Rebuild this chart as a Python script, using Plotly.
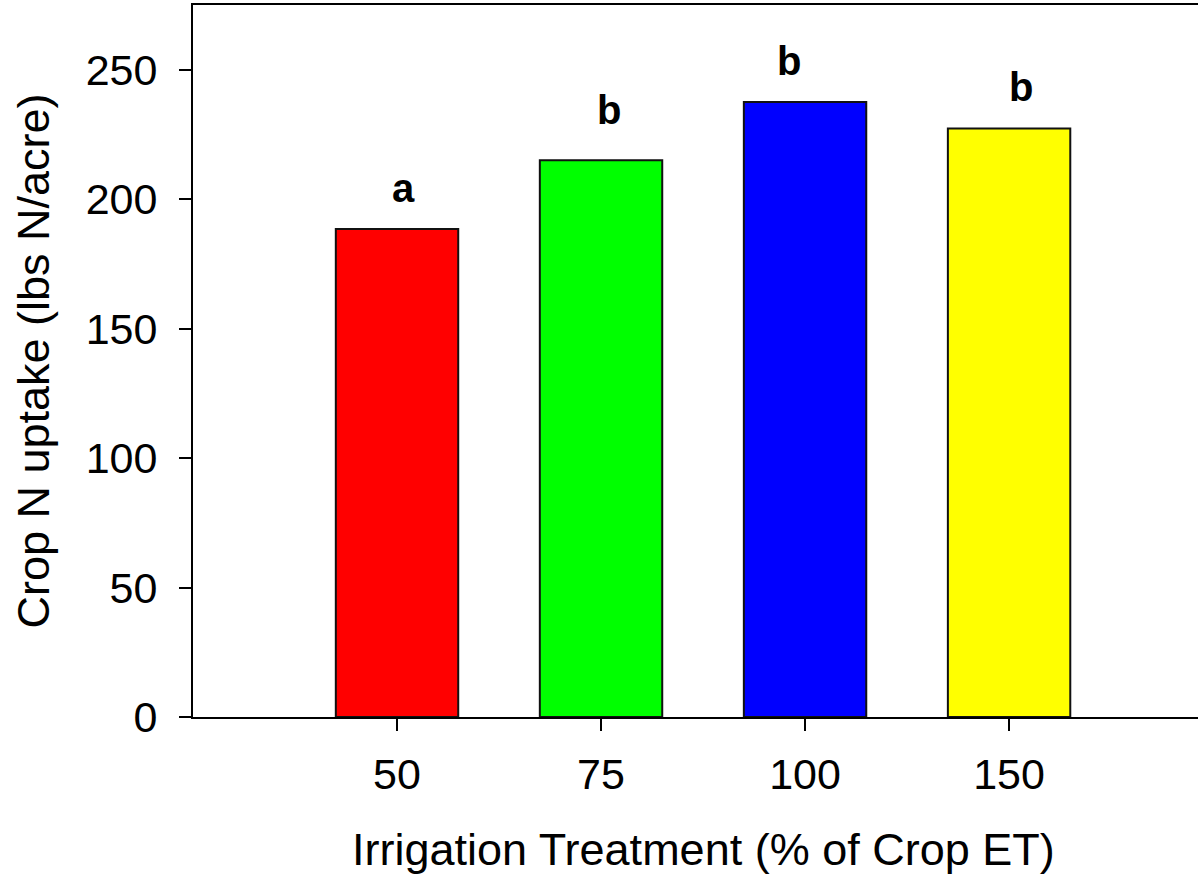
import plotly.graph_objects as go

categories = ["50", "75", "100", "150"]
uptake = [188.5, 215.0, 237.5, 227.3]
letters = ["a", "b", "b", "b"]
letter_heights = [198.5, 228.5, 247.5, 237.5]
colors = ["#FF0000", "#00FF00", "#0000FF", "#FFFF00"]

FONT = "Liberation Sans, Arial, sans-serif"

fig = go.Figure()
fig.add_trace(go.Bar(
    x=list(range(len(categories))),
    y=uptake,
    width=0.6,
    marker=dict(color=colors, line=dict(color="#111111", width=2)),
    showlegend=False,
))

# small horizontal nudges of the significance letters (pixels), as in the original
letter_nudge = [6, 8, -16, 12]
for i, (lab, h) in enumerate(zip(letters, letter_heights)):
    fig.add_annotation(x=i, y=h, text=f"<b>{lab}</b>", showarrow=False,
                       yanchor="bottom", yshift=-9, xshift=letter_nudge[i],
                       font=dict(family=FONT, size=40, color="black"))

fig.add_annotation(text="Irrigation Treatment (% of Crop ET)", showarrow=False,
                   xref="paper", yref="paper", x=0.5075, y=-0.147,
                   xanchor="center", yanchor="top",
                   font=dict(family=FONT, size=45, color="black"))

fig.update_layout(
    width=1198, height=877,
    margin=dict(l=193, r=0, t=5, b=160, autoexpand=False),
    paper_bgcolor="white", plot_bgcolor="white",
    font=dict(family=FONT, color="black"),
    bargap=0.4,
)
fig.update_xaxes(
    range=[-1, 3.926],
    tickvals=list(range(len(categories))), ticktext=categories,
    showline=True, linecolor="black", linewidth=2, mirror=True,
    ticks="outside", ticklen=12, tickwidth=2, tickcolor="black",
    tickfont=dict(size=43), ticklabelstandoff=6,
    showgrid=False, zeroline=False,
)
fig.update_yaxes(
    range=[0, 275],
    tickvals=[0, 50, 100, 150, 200, 250],
    showline=True, linecolor="black", linewidth=2,
    ticks="outside", ticklen=12, tickwidth=2, tickcolor="black",
    tickfont=dict(size=43), ticklabelstandoff=13,
    showgrid=False, zeroline=False,
    title=dict(text="Crop N uptake (lbs N/acre)", font=dict(size=45), standoff=22),
)

fig.write_html("out.html")
